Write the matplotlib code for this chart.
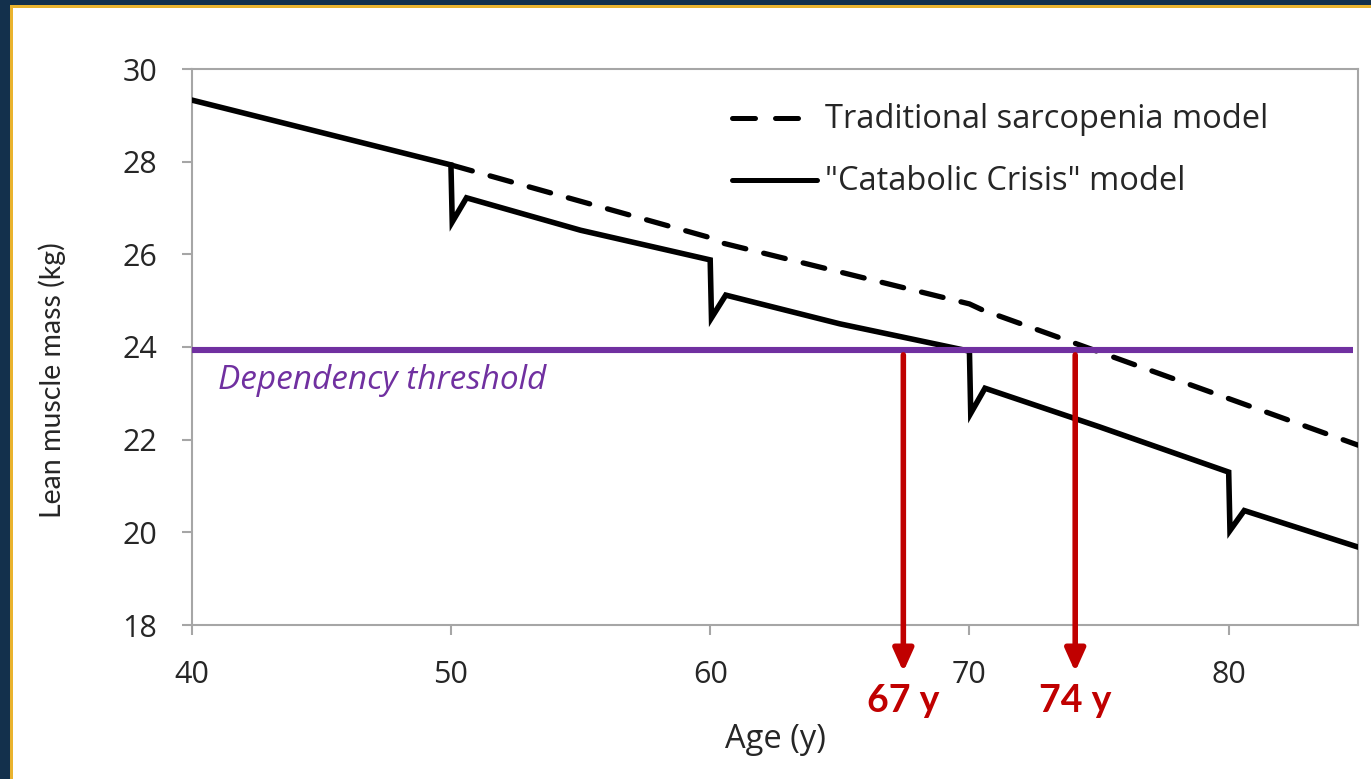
import matplotlib
matplotlib.use("Agg")
import matplotlib.pyplot as plt
from matplotlib.patches import Rectangle
from matplotlib.lines import Line2D

# ---- data -------------------------------------------------------------
# "Catabolic Crisis" model: slow decline with a sharp loss and partial
# recovery at each decade
catabolic_age = [40, 50, 50.05, 50.6, 55, 60, 60.05, 60.6, 65, 70, 70.05, 70.6,
                 75, 80, 80.05, 80.6, 85]
catabolic_mass = [29.33, 27.93, 26.70, 27.22, 26.52, 25.88, 24.63, 25.12, 24.50,
                  23.91, 22.57, 23.11, 22.28, 21.30, 20.04, 20.47, 19.68]

# Traditional sarcopenia model (branches off at age 50)
traditional_age = [50, 60, 60.5, 70, 70.5, 85]
traditional_mass = [27.93, 26.36, 26.24, 24.93, 24.80, 21.88]

threshold_mass = 23.93
threshold_span = [40, 84.8]

# ages where each model falls below the dependency threshold
onset_age = [67.45, 74.08]

x_ticks = [40, 50, 60, 70, 80]
y_ticks = [18, 20, 22, 24, 26, 28, 30]

# ---- styling ------------------------------------------------------------
FONT = "Open Sans"
VFONT = "Lato"
NAVY = "#13304c"
GOLD = "#e9b32f"
PURPLE = "#7030a0"
RED = "#c00000"
SPINE = "#a6a6a6"
TEXT = "#262626"

W, H = 1371, 779
fig = plt.figure(figsize=(W / 100, H / 100), dpi=100)
fig.patch.set_facecolor("white")

# slide frame: navy band on the left and top edges with a gold rule
def px_rect(x0, y0, w, h, color):
    fig.patches.append(Rectangle((x0 / W, 1 - (y0 + h) / H), w / W, h / H,
                                 transform=fig.transFigure, color=color,
                                 zorder=0, lw=0))

px_rect(0, 0, W, 5, NAVY)
px_rect(0, 0, 10, H, NAVY)
px_rect(10, 5, W - 10, 2.5, GOLD)
px_rect(10, 5, 2.5, H - 5, GOLD)

ax_l, ax_r, ax_t, ax_b = 191.7, 1358.3, 69, 625
ax = fig.add_axes([ax_l / W, 1 - ax_b / H, (ax_r - ax_l) / W, (ax_b - ax_t) / H])
ax.set_xlim(40, 85)
ax.set_ylim(18, 30)

for side in ["left", "bottom", "top", "right"]:
    ax.spines[side].set_color(SPINE)
    ax.spines[side].set_linewidth(1.5)

ax.set_xticks(x_ticks)
ax.set_yticks(y_ticks)
ax.set_xticklabels([str(v) for v in x_ticks])
ax.set_yticklabels([str(v) for v in y_ticks])
ax.tick_params(axis="both", which="major", direction="out", length=7,
               width=1.5, color=SPINE, labelsize=22, labelcolor=TEXT)
ax.tick_params(axis="x", pad=18)
ax.tick_params(axis="y", pad=18)
for lab in ax.get_xticklabels() + ax.get_yticklabels():
    lab.set_fontfamily(FONT)

ax.set_xlabel("Age (y)", fontsize=23.5, fontfamily=FONT, color=TEXT)
ax.xaxis.set_label_coords(0.5, (ax_b - 740) / (ax_b - ax_t))
ax.xaxis.label.set_verticalalignment("center")
ax.set_ylabel("Lean muscle mass (kg)", fontsize=20.5, fontfamily=VFONT,
              color=TEXT)
ax.yaxis.set_label_coords((52 - ax_l) / (ax_r - ax_l), (ax_b - 380) / (ax_b - ax_t))
ax.yaxis.label.set_verticalalignment("center")

# model curves
ax.plot(traditional_age, traditional_mass, color="black", lw=3.8,
        dashes=(4.2, 3.5), solid_joinstyle="round", dash_capstyle="round",
        zorder=3)
ax.plot(catabolic_age, catabolic_mass, color="black", lw=4.0,
        solid_joinstyle="miter", solid_capstyle="round", zorder=3)

# dependency threshold
ax.plot(threshold_span, [threshold_mass, threshold_mass], color=PURPLE,
        lw=4.4, solid_capstyle="butt", zorder=4, clip_on=False)
ax.text(41.0, threshold_mass - 0.3, "Dependency threshold", color=PURPLE,
        fontsize=24, fontstyle="italic", fontfamily=FONT, va="top", ha="left")

# arrows marking the age of onset of dependency
for age in onset_age:
    ax.annotate("", xy=(age, 16.99), xytext=(age, threshold_mass - 0.1),
                arrowprops=dict(arrowstyle="-|>,head_length=1.0,head_width=0.45",
                                mutation_scale=13.5, color=RED, lw=4.0,
                                shrinkA=0, shrinkB=0),
                annotation_clip=False, zorder=5)
    ax.text(age, 16.36, f"{int(age)} y", color=RED, fontsize=27,
            fontweight="bold", fontfamily=VFONT, ha="center", va="center",
            clip_on=False)

# legend drawn in axes coordinates
def ax_frac(px, py):
    return (px - ax_l) / (ax_r - ax_l), (ax_b - py) / (ax_b - ax_t)

x0, y0 = ax_frac(732, 118)
x1, _ = ax_frac(800, 118)
ax.add_line(Line2D([x0, x1], [y0, y0], transform=ax.transAxes, color="black",
                   lw=3.6, dashes=(4.6, 4.0), dash_capstyle="round"))
tx, tb0 = ax_frac(825, 128.5)
ax.text(tx, tb0, "Traditional sarcopenia model", transform=ax.transAxes,
        fontsize=23.5, fontfamily=FONT, color=TEXT, va="baseline", ha="left")

x0, y1 = ax_frac(732, 180)
x2, _ = ax_frac(817, 180)
ax.add_line(Line2D([x0, x2], [y1, y1], transform=ax.transAxes, color="black",
                   lw=3.6, solid_capstyle="round"))
_, tb1 = ax_frac(825, 190.5)
ax.text(tx, tb1, '"Catabolic Crisis" model', transform=ax.transAxes,
        fontsize=23.5, fontfamily=FONT, color=TEXT, va="baseline", ha="left")

fig.savefig("out.png", dpi=100, facecolor="white")
